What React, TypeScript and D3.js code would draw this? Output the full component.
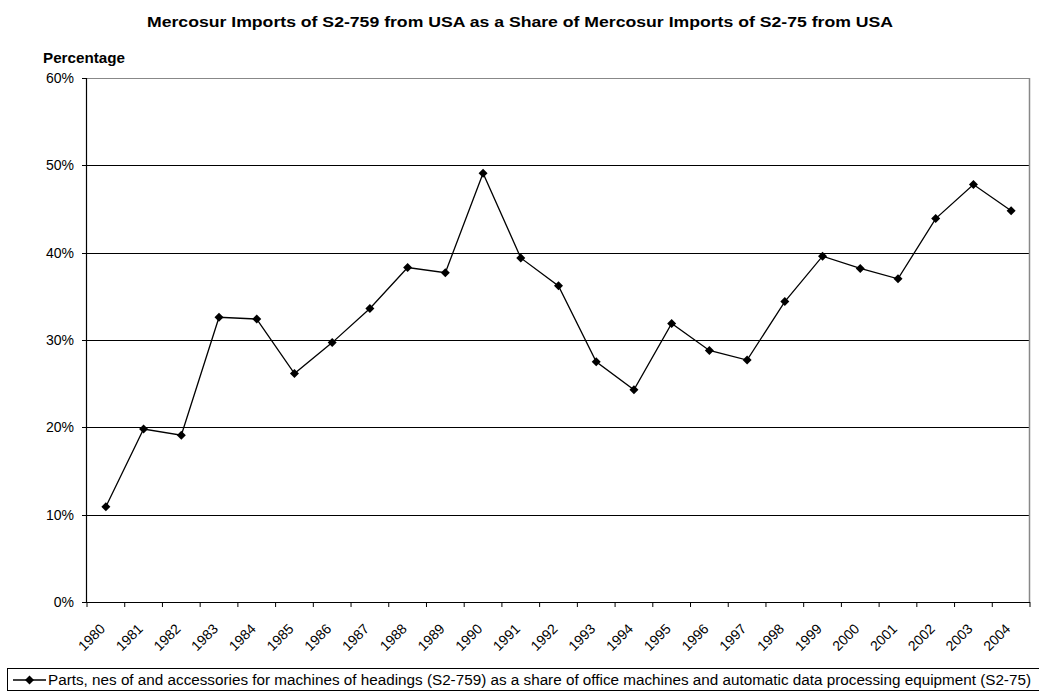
import React from "react";
import * as d3 from "d3";

const years = ["1980","1981","1982","1983","1984","1985","1986","1987","1988","1989","1990","1991","1992","1993","1994","1995","1996","1997","1998","1999","2000","2001","2002","2003","2004"];
const shares = [0.109,0.198,0.191,0.326,0.324,0.2615,0.297,0.336,0.383,0.377,0.491,0.394,0.362,0.275,0.243,0.319,0.288,0.277,0.344,0.396,0.382,0.370,0.439,0.478,0.448];
const yTicks = [0,0.1,0.2,0.3,0.4,0.5,0.6];
const title = "Mercosur Imports of S2-759 from USA as a Share of Mercosur Imports of S2-75 from USA";
const yLabel = "Percentage";
const legendLabel = "Parts, nes of and accessories for machines of headings (S2-759) as a share of office machines and automatic data processing equipment (S2-75)";

const W = 1039, H = 692;
const L = 87, R = 1030, T = 78, B = 602;
const font = "Arial, 'Liberation Sans', Helvetica, sans-serif";

export default function App() {
  const x = d3.scaleBand<string>().domain(years).range([L, R]).padding(0);
  const y = d3.scaleLinear().domain([0, 0.6]).range([B, T]);
  const cx = (yr: string) => (x(yr) as number) + x.bandwidth() / 2;
  const line = d3.line<number>().x((_, i) => cx(years[i])).y((d) => y(d));
  const fmt = d3.format(".0%");
  const diamond = (px: number, py: number, s = 4.5) => `M${px},${py - s}L${px + s},${py}L${px},${py + s}L${px - s},${py}Z`;
  const boundaries = years.map((yr) => x(yr) as number).concat([R]);

  return (
    <svg width={W} height={H} style={{ position: "absolute", left: 0, top: 0, fontFamily: font }}>
      <rect width={W} height={H} fill="#fff" />
      <text x={147} y={27} fontSize={15} fontWeight="bold" textLength={746} lengthAdjust="spacingAndGlyphs">{title}</text>
      <text x={43} y={63} fontSize={14} fontWeight="bold" textLength={82} lengthAdjust="spacingAndGlyphs">{yLabel}</text>
      {yTicks.map((t) => (
        <g key={t}>
          {t > 0 && t < 0.6 && <line x1={L} x2={R} y1={Math.round(y(t)) + 0.5} y2={Math.round(y(t)) + 0.5} stroke="#000" strokeWidth={1} />}
          <line x1={L - 5} x2={L} y1={Math.round(y(t)) + 0.5} y2={Math.round(y(t)) + 0.5} stroke="#000" />
          <text x={L - 13} y={y(t) + 5} textAnchor="end" fontSize={14}>{fmt(t)}</text>
        </g>
      ))}
      <line x1={L} x2={R} y1={Math.round(y(0.6)) + 0.5} y2={Math.round(y(0.6)) + 0.5} stroke="#888" />
      <line x1={R - 0.5} x2={R - 0.5} y1={T} y2={B} stroke="#888" strokeWidth={1.5} />
      <line x1={L - 0.5} x2={L - 0.5} y1={T} y2={B + 0.5} stroke="#000" strokeWidth={1.2} />
      <line x1={L} x2={R} y1={B + 0.5} y2={B + 0.5} stroke="#000" strokeWidth={1.2} />
      {boundaries.map((bx, i) => (
        <line key={i} x1={bx} x2={bx} y1={B} y2={B + 5} stroke="#000" />
      ))}
      {years.map((yr) => (
        <text key={yr} transform={`translate(${cx(yr) - 2.5},${B + 25}) rotate(-45)`} textAnchor="end" dominantBaseline="middle" fontSize={14}>{yr}</text>
      ))}
      <path d={line(shares) || ""} fill="none" stroke="#000" strokeWidth={1.3} />
      {shares.map((v, i) => (
        <path key={i} d={diamond(cx(years[i]), y(v))} fill="#000" />
      ))}
      <rect x={7.5} y={668.5} width={1035} height={22} fill="#fff" stroke="#000" />
      <line x1={13} x2={46} y1={680} y2={680} stroke="#000" strokeWidth={1.3} />
      <path d={diamond(29.5, 680)} fill="#000" />
      <text x={48} y={684.5} fontSize={14} textLength={983} lengthAdjust="spacingAndGlyphs">{legendLabel}</text>
    </svg>
  );
}
